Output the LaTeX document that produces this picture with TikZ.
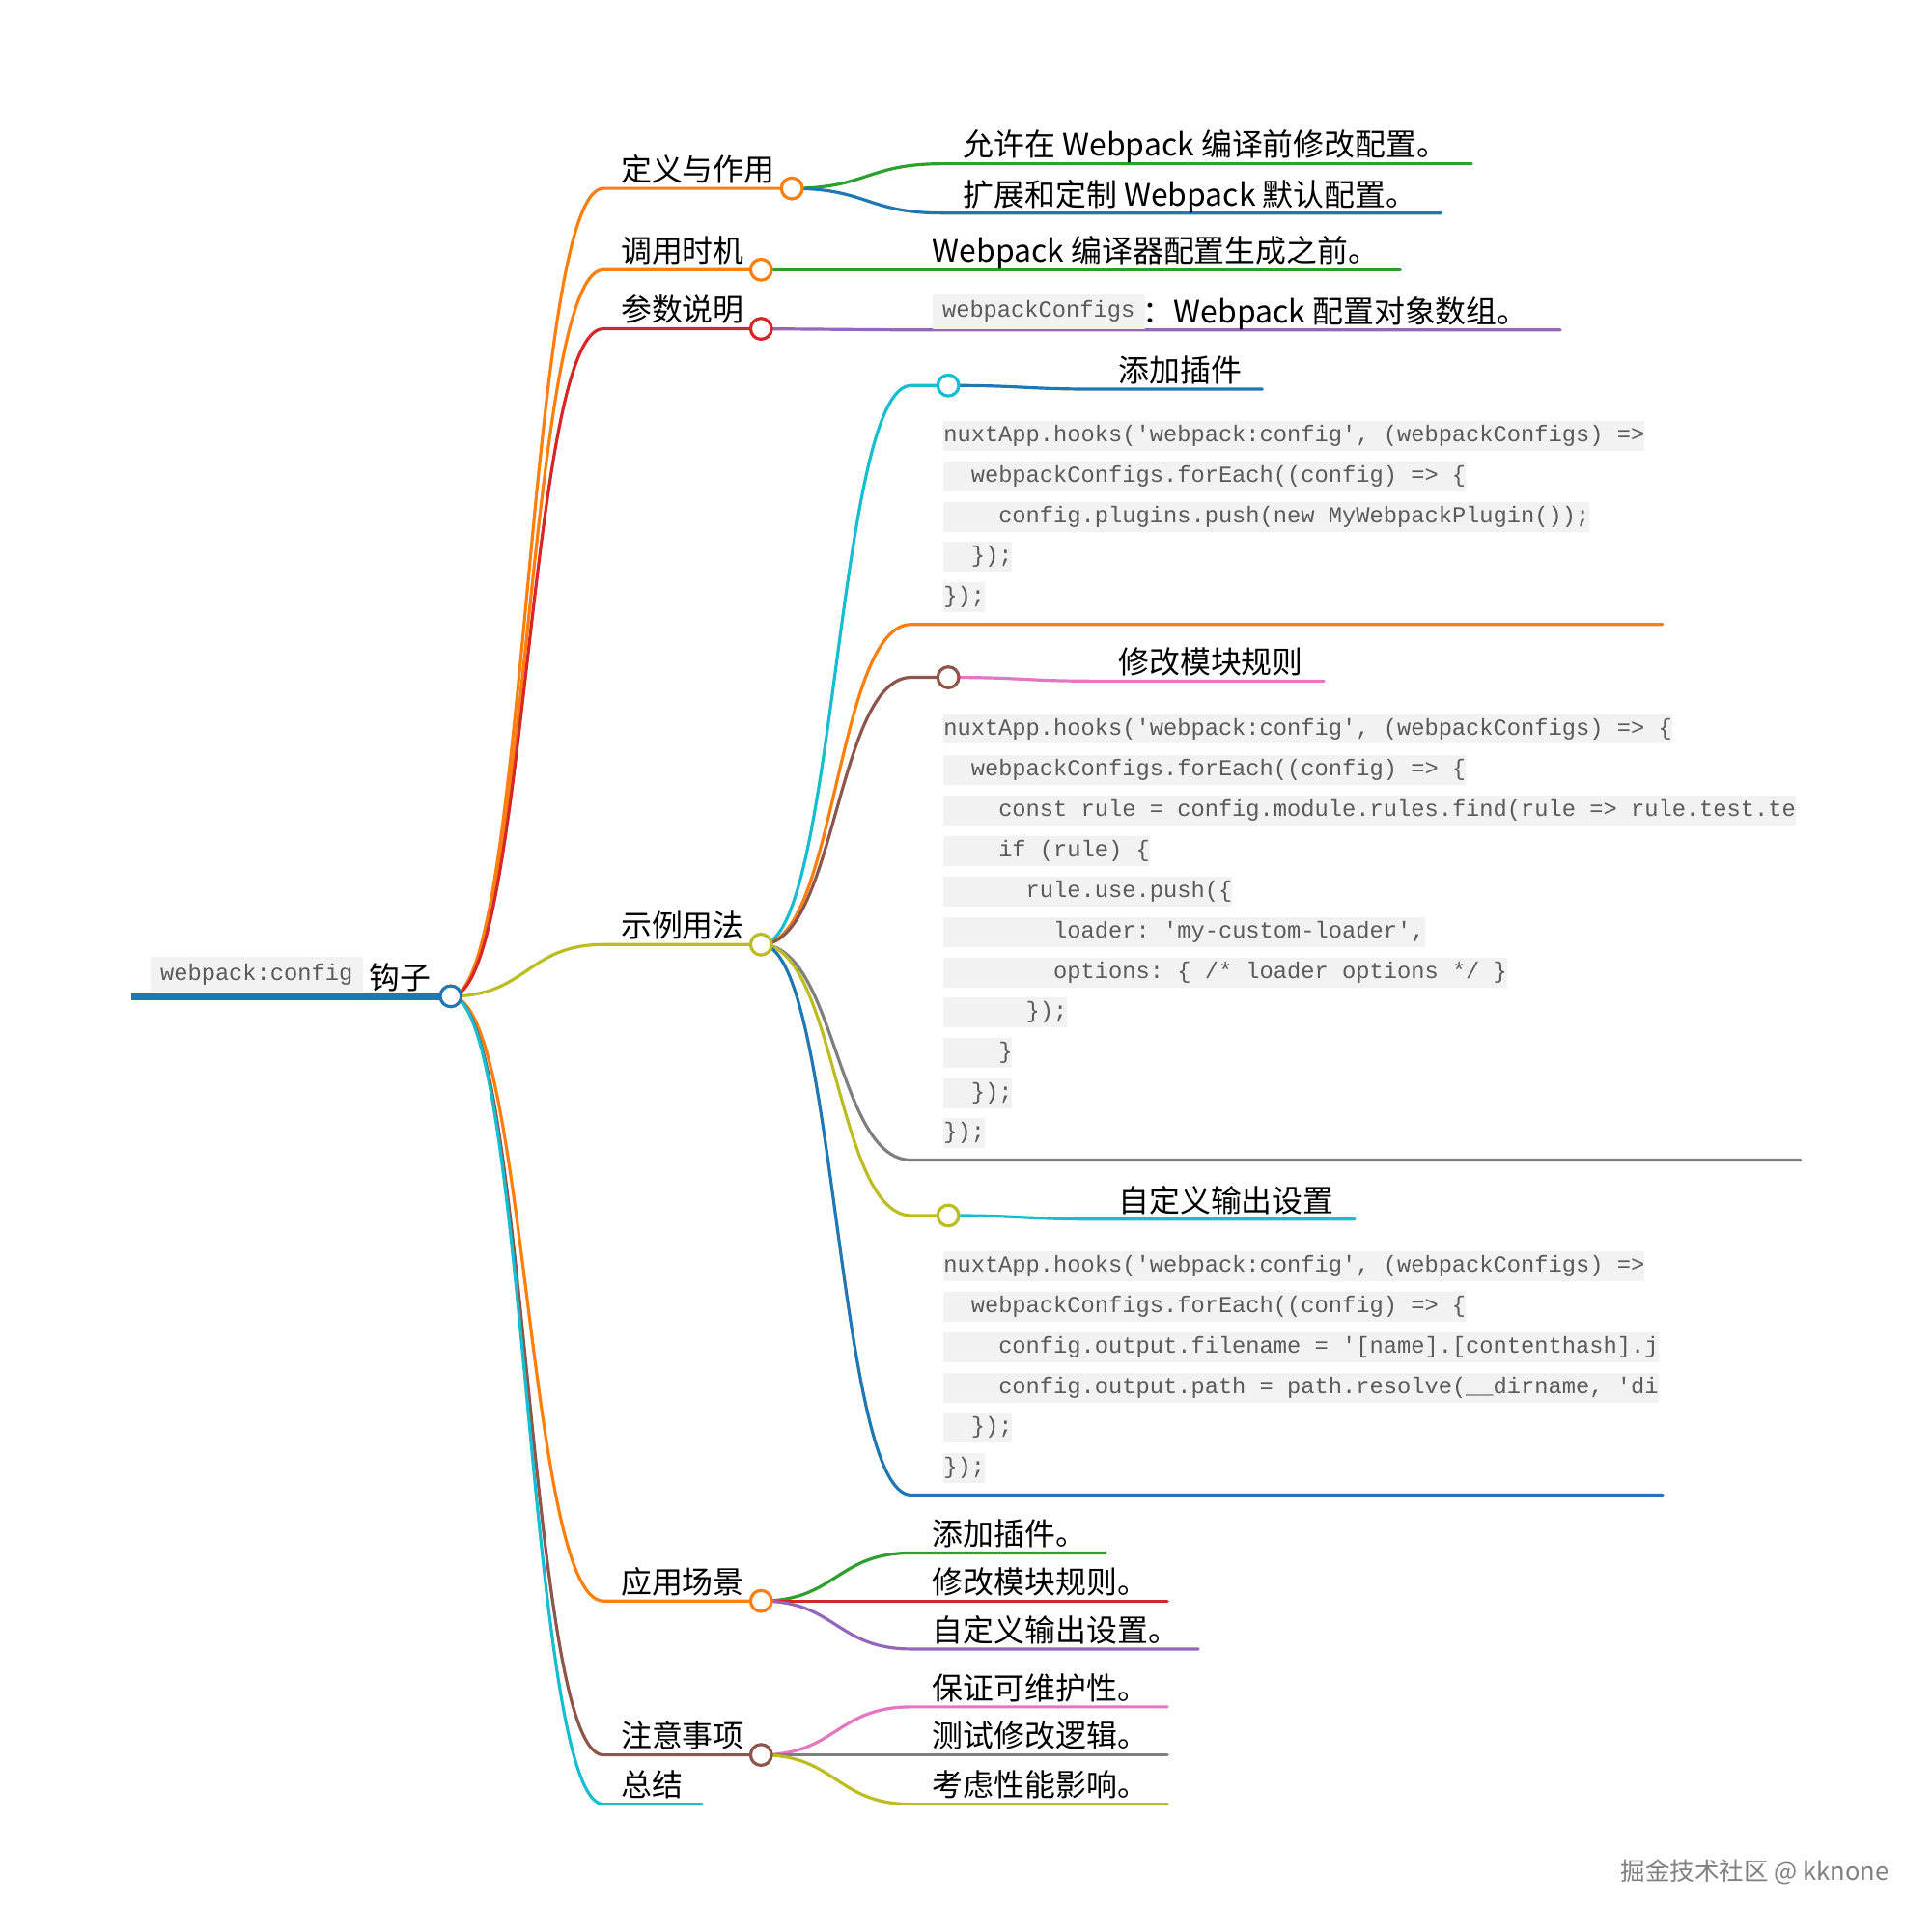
\documentclass[tikz,border=0pt]{standalone}
\usepackage{fontspec}
\setmainfont{Noto Sans CJK SC}
\setmonofont{Liberation Mono}
\usetikzlibrary{calc}
\definecolor{cblue}{HTML}{1F77B4}
\definecolor{corange}{HTML}{FF7F0E}
\definecolor{cgreen}{HTML}{2CA02C}
\definecolor{cred}{HTML}{D62728}
\definecolor{cpurple}{HTML}{9467BD}
\definecolor{cbrown}{HTML}{8C564B}
\definecolor{cpink}{HTML}{E377C2}
\definecolor{cgray}{HTML}{7F7F7F}
\definecolor{colive}{HTML}{BCBD22}
\definecolor{ccyan}{HTML}{17BECF}
\definecolor{codebg}{HTML}{F2F2F2}
\definecolor{codefg}{HTML}{5A5A5A}
\tikzset{
    knob/.style={circle, draw=#1, fill=white, line width=2.5pt, inner sep=0pt, minimum size=17pt},
    lnk/.style={line width=2.5pt, line cap=round},
    lbl/.style={anchor=base west, inner sep=0pt, font=\fontsize{25}{25}\selectfont},
    codeln/.style={anchor=west, fill=codebg, text=codefg, inner xsep=0pt, inner ysep=0pt,
        minimum height=24pt, font=\ttfamily\fontsize{18.6}{18.6}\selectfont},
    codetag/.style={codeln, inner xsep=8pt, minimum height=28pt}
}
% link from parent knob to child start, then the child's underline
\newcommand{\mmlink}[4]{\draw[lnk,#4] let \p1=(#1), \p2=(#2) in
    (\p1) .. controls ({0.5*\x1+0.5*\x2},\y1) and ({0.5*\x1+0.5*\x2},\y2) .. (\p2) -- (#3);}

\begin{document}
\begin{tikzpicture}[x=1pt, y=-1pt]
    \fill[white] (0,0) rectangle (1568,1568);
    \useasboundingbox (0,0) rectangle (1568,1568);

    % knob positions
    \coordinate (root) at (366,809);
    \coordinate (rootL) at (107,809);
    \coordinate (def) at (643,153);   \coordinate (def-s) at (490,153);
    \coordinate (call) at (618,219);  \coordinate (call-s) at (490,219);
    \coordinate (arg) at (618,267);   \coordinate (arg-s) at (490,267);
    \coordinate (ex) at (618,767);    \coordinate (ex-s) at (490,767);
    \coordinate (use) at (618,1300);  \coordinate (use-s) at (490,1300);
    \coordinate (note) at (618,1425); \coordinate (note-s) at (490,1425);
    \coordinate (sum-s) at (490,1465); \coordinate (sum-e) at (570,1465);

    \coordinate (ex1) at (770,313);  \coordinate (ex1-s) at (740,313);
    \coordinate (ex3) at (770,550);  \coordinate (ex3-s) at (740,550);
    \coordinate (ex5) at (770,987);  \coordinate (ex5-s) at (740,987);

    % root line and first level
    \draw[cblue, line width=6pt] (rootL) -- (root);
    \mmlink{root}{def-s}{def}{corange}
    \mmlink{root}{call-s}{call}{corange}
    \mmlink{root}{arg-s}{arg}{cred}
    \mmlink{root}{ex-s}{ex}{colive}
    \mmlink{root}{use-s}{use}{corange}
    \mmlink{root}{note-s}{note}{cbrown}
    \mmlink{root}{sum-s}{sum-e}{ccyan}

    % second level
    \mmlink{def}{765,133}{1195,133}{cgreen}
    \mmlink{def}{765,173}{1170,173}{cblue}
    \mmlink{call}{740,219}{1137,219}{cgreen}
    \mmlink{arg}{740,268}{1267,268}{cpurple}

    \mmlink{ex}{ex1-s}{ex1}{ccyan}
    \mmlink{ex}{740,507}{1350,507}{corange}
    \mmlink{ex}{ex3-s}{ex3}{cbrown}
    \mmlink{ex}{740,942}{1462,942}{cgray}
    \mmlink{ex}{ex5-s}{ex5}{colive}
    \mmlink{ex}{740,1214}{1350,1214}{cblue}
    \mmlink{ex1}{892,316}{1025,316}{cblue}
    \mmlink{ex3}{892,553}{1075,553}{cpink}
    \mmlink{ex5}{892,990}{1100,990}{ccyan}

    \mmlink{use}{740,1261}{898,1261}{cgreen}
    \mmlink{use}{740,1300}{948,1300}{cred}
    \mmlink{use}{740,1339}{973,1339}{cpurple}
    \mmlink{note}{740,1386}{948,1386}{cpink}
    \mmlink{note}{740,1425}{948,1425}{cgray}
    \mmlink{note}{740,1465}{948,1465}{colive}

    % knobs
    \node[knob=cblue] (root-k) at (root) {};
    \node[knob=corange] (def-k) at (def) {};
    \node[knob=corange] (call-k) at (call) {};
    \node[knob=cred] (arg-k) at (arg) {};
    \node[knob=colive] (ex-k) at (ex) {};
    \node[knob=corange] (use-k) at (use) {};
    \node[knob=cbrown] (note-k) at (note) {};
    \node[knob=ccyan] (ex1-k) at (ex1) {};
    \node[knob=cbrown] (ex3-k) at (ex3) {};
    \node[knob=colive] (ex5-k) at (ex5) {};

    % labels
    \node[codetag] (root-tag) at (122,791) {webpack:config};
    \node[lbl] (root-t) at (300,803) {钩子};
    \node[lbl] (def-t) at (504,147) {定义与作用};
    \node[lbl] (call-t) at (504,213) {调用时机};
    \node[lbl] (arg-t) at (504,261) {参数说明};
    \node[lbl] (ex-t) at (504,761) {示例用法};
    \node[lbl] (use-t) at (504,1294) {应用场景};
    \node[lbl] (note-t) at (504,1419) {注意事项};
    \node[lbl] (sum-t) at (504,1459) {总结};

    \node[lbl] (def1-t) at (782,127) {允许在 Webpack 编译前修改配置。};
    \node[lbl] (def2-t) at (782,167) {扩展和定制 Webpack 默认配置。};
    \node[lbl] (call1-t) at (757,213) {Webpack 编译器配置生成之前。};
    \node[codetag] (arg1-tag) at (757,253) {webpackConfigs};
    \node[lbl] (arg1-t) at (928,262) {：Webpack 配置对象数组。};

    \node[lbl] (ex1-t) at (908,310) {添加插件};
    \node[lbl] (ex3-t) at (908,547) {修改模块规则};
    \node[lbl] (ex5-t) at (908,984) {自定义输出设置};

    \node[lbl] (use1-t) at (757,1255) {添加插件。};
    \node[lbl] (use2-t) at (757,1294) {修改模块规则。};
    \node[lbl] (use3-t) at (757,1333) {自定义输出设置。};
    \node[lbl] (note1-t) at (757,1380) {保证可维护性。};
    \node[lbl] (note2-t) at (757,1419) {测试修改逻辑。};
    \node[lbl] (note3-t) at (757,1459) {考虑性能影响。};

    % code: add plugin
    \node[codeln] (ca1) at (766,354) {nuxtApp.hooks('webpack:config', (webpackConfigs) =>};
    \node[codeln] (ca2) at (766,387) {\ \ webpackConfigs.forEach((config) => \{};
    \node[codeln] (ca3) at (766,420) {\ \ \ \ config.plugins.push(new MyWebpackPlugin());};
    \node[codeln] (ca4) at (766,452) {\ \ \});};
    \node[codeln] (ca5) at (766,485) {\});};

    % code: module rules
    \node[codeln] (cb1) at (766,592) {nuxtApp.hooks('webpack:config', (webpackConfigs) => \{};
    \node[codeln] (cb2) at (766,625) {\ \ webpackConfigs.forEach((config) => \{};
    \node[codeln] (cb3) at (766,658) {\ \ \ \ const rule = config.module.rules.find(rule => rule.test.te};
    \node[codeln] (cb4) at (766,691) {\ \ \ \ if (rule) \{};
    \node[codeln] (cb5) at (766,724) {\ \ \ \ \ \ rule.use.push(\{};
    \node[codeln] (cb6) at (766,757) {\ \ \ \ \ \ \ \ loader: 'my-custom-loader',};
    \node[codeln] (cb7) at (766,790) {\ \ \ \ \ \ \ \ options: \{ /* loader options */ \}};
    \node[codeln] (cb8) at (766,822) {\ \ \ \ \ \ \});};
    \node[codeln] (cb9) at (766,855) {\ \ \ \ \}};
    \node[codeln] (cb10) at (766,888) {\ \ \});};
    \node[codeln] (cb11) at (766,920) {\});};

    % code: output
    \node[codeln] (cc1) at (766,1028) {nuxtApp.hooks('webpack:config', (webpackConfigs) =>};
    \node[codeln] (cc2) at (766,1061) {\ \ webpackConfigs.forEach((config) => \{};
    \node[codeln] (cc3) at (766,1094) {\ \ \ \ config.output.filename = '[name].[contenthash].j};
    \node[codeln] (cc4) at (766,1127) {\ \ \ \ config.output.path = path.resolve(\_\_dirname, 'di};
    \node[codeln] (cc5) at (766,1159) {\ \ \});};
    \node[codeln] (cc6) at (766,1192) {\});};

    \node[anchor=base west, inner sep=0pt, text=gray, font=\fontsize{20}{20}\selectfont] (mark) at (1316,1527) {掘金技术社区 @ kknone};
\end{tikzpicture}
\end{document}
